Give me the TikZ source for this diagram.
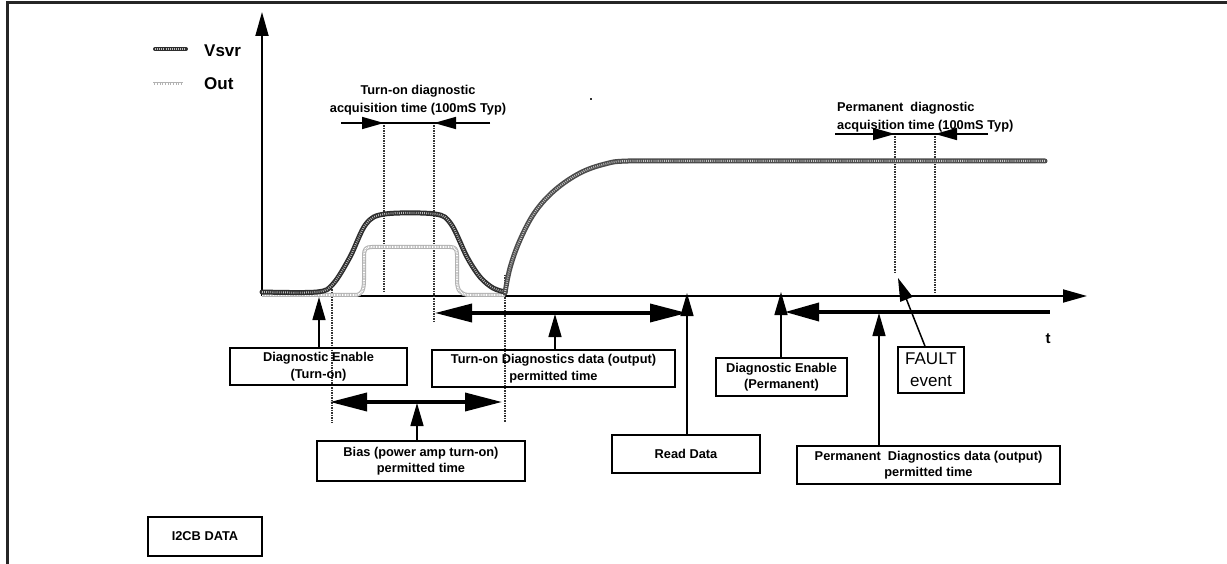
\documentclass[tikz,border=0pt]{standalone}
\usepackage{fontspec}
\setmainfont{Liberation Sans}
\usetikzlibrary{arrows.meta}
\begin{document}
\begin{tikzpicture}[x=1pt,y=-1pt,
  bx/.style={draw, line width=1.6pt, align=center, inner sep=0pt, font=\bfseries\fontsize{12.8}{16.5}\selectfont},
  axis/.style={line width=1.8pt, -{Triangle[length=24pt,width=13pt]}},
  arr/.style={line width=1.5pt, -{Triangle[length=23pt,width=13pt]}},
  rng/.style={line width=3.6pt, {Triangle[length=37pt,width=18pt]}-{Triangle[length=37pt,width=18pt]}},
  rngL/.style={line width=3.6pt, {Triangle[length=34pt,width=18pt]}-},
  acq/.style={line width=1.6pt, -{Triangle[length=22pt,width=12pt]}},
  vl/.style={line width=1.1pt, black!80, dash pattern=on 1.5pt off 1pt},
  vsvrA/.style={solid, line width=5pt, black!82, line cap=round, line join=round},
  vsvrB/.style={line width=2pt, gray!50, dash pattern=on 0.8pt off 1.3pt},
  outA/.style={solid, line width=4pt, gray!60, line join=round},
  outB/.style={line width=2pt, white, dash pattern=on 0.8pt off 0.8pt},
  lbl/.style={font=\bfseries\fontsize{12.8}{17.5}\selectfont, inner sep=0pt}
]
\useasboundingbox (0,0) rectangle (1227,564);
\fill[white] (0,0) rectangle (1227,564);
% frame
\draw[line width=3pt, black!85] (7,564) -- (7,3) -- (1227,3);

% axes
\coordinate (O) at (262,296);
\coordinate (Ytip) at (262,12);
\coordinate (Xtip) at (1087,296);
\draw[axis] (O) -- (Ytip);
\draw[axis] (O) -- (Xtip);

% dashed verticals
\draw[vl] (384,123) -- (384,293);
\draw[vl] (434,123) -- (434,322);
\draw[vl] (332,287) -- (332,423);
\draw[vl] (505,275) -- (505,422);
\draw[vl] (895,134) -- (895,273);
\draw[vl] (935,134) -- (935,292);

% Out waveform
\path[preaction={draw,outA}, draw, outB]
  (262,295) -- (355,295) .. controls (362,295) and (364,290) .. (364,280)
  -- (364,255) .. controls (364,249) and (366,247) .. (372,247)
  -- (450,247) .. controls (455,247) and (457,249) .. (457,255)
  -- (457,280) .. controls (457,290) and (460,294) .. (468,295) -- (505,295);

% Vsvr waveform
\path[preaction={draw,vsvrA}, draw, vsvrB]
  plot[smooth, tension=0.55] coordinates {(262,292) (317,292) (333,284) (350,257) (366,224) (385,214) (435,214) (451,224) (467,257) (480,277) (493,288) (505,292)};
\path[preaction={draw,vsvrA,black!70}, draw, vsvrB, gray!40]
  plot[smooth, tension=0.6] coordinates {(505,293) (510,268) (520,240) (535,212) (555,190) (580,173) (605,164) (628,161) (700,161)} -- (1045,161);

% legend
\draw[vsvrB, preaction={draw,vsvrA,line width=4pt}] (155,49) -- (186,49);
\draw[outB, line width=1.5pt, preaction={draw,outA,line width=3pt}] (153,84) -- (183,84);
\node[anchor=west, font=\bfseries\fontsize{17}{20}\selectfont, inner sep=0pt] (lv) at (204,51) {Vsvr};
\node[anchor=west, font=\bfseries\fontsize{17}{20}\selectfont, inner sep=0pt] (lo) at (204,84) {Out};

% turn-on acquisition
\node[lbl, align=center] (tacq) at (418,100) {Turn-on diagnostic\\acquisition time (100mS Typ)};
\coordinate (ta1) at (341,123);
\coordinate (ta2) at (490,123);
\coordinate (ta1t) at (384,123);
\coordinate (ta2t) at (434,123);
\draw[line width=1.6pt] (ta1) -- (ta2);
\draw[acq] (ta1) -- (ta1t);
\draw[acq] (ta2) -- (ta2t);

% permanent acquisition
\node[lbl, align=left, anchor=west] (pacq) at (837,117) {Permanent\ \ diagnostic\\acquisition time (100mS Typ)};
\coordinate (pa1) at (835,134);
\coordinate (pa2) at (988,134);
\coordinate (pa1t) at (895,134);
\coordinate (pa2t) at (935,134);
\draw[line width=1.6pt] (pa1) -- (pa2);
\draw[acq] (pa1) -- (pa1t);
\draw[acq] (pa2) -- (pa2t);

% stray dot
\fill[black!80] (590,98) rectangle (592,100);

% t label
\node[font=\bfseries\fontsize{15}{18}\selectfont, inner sep=0pt] (tl) at (1048,339) {t};

% boxes
\node[bx, minimum width=177pt, minimum height=37pt] (den) at (318.5,366.5) {Diagnostic Enable\\(Turn-on)};
\node[bx, minimum width=243pt, minimum height=37pt] (tdd) at (553.5,368.5) {Turn-on Diagnostics data (output)\\permitted time};
\node[bx, minimum width=208pt, minimum height=40pt] (bias) at (421,461) {Bias (power amp turn-on)\\permitted time};
\node[bx, minimum width=148pt, minimum height=38pt] (read) at (686,454) {Read Data};
\node[bx, minimum width=131pt, minimum height=38pt] (dep) at (781.5,377) {Diagnostic Enable\\(Permanent)};
\node[draw, line width=1.6pt, align=center, inner sep=0pt, minimum width=66pt, minimum height=46pt, font=\fontsize{17}{22}\selectfont] (fault) at (931,370) {FAULT\\event};
\node[bx, minimum width=263pt, minimum height=38pt] (pdd) at (928.5,465) {Permanent\ \ Diagnostics data (output)\\permitted time};
\node[bx, minimum width=114pt, minimum height=39pt] (i2cb) at (205,536.5) {I2CB DATA};

% range arrows
\coordinate (r1a) at (435,313);
\coordinate (r1b) at (687,313);
\draw[rng] (r1a) -- (r1b);
\coordinate (r2a) at (330,402);
\coordinate (r2b) at (502,402);
\draw[rng] (r2a) -- (r2b);
\coordinate (r3a) at (785,312);
\coordinate (r3b) at (1050,312);
\draw[rngL] (r3a) -- (r3b);

% pointer arrows
\coordinate (tDEN) at (319,297);
\draw[arr] (den.north -| tDEN) -- (tDEN);
\coordinate (tTDD) at (555,314);
\draw[arr] (tdd.north -| tTDD) -- (tTDD);
\coordinate (tBIAS) at (417,403);
\draw[arr] (bias.north -| tBIAS) -- (tBIAS);
\coordinate (tREAD) at (687,293);
\draw[arr] (read.north -| tREAD) -- (tREAD);
\coordinate (tDEP) at (781,292);
\draw[arr] (dep.north -| tDEP) -- (tDEP);
\coordinate (tPDD) at (879,313);
\draw[arr] (pdd.north -| tPDD) -- (tPDD);
\coordinate (tFAULT) at (898,278);
\draw[arr] ([xshift=-6pt]fault.north) -- (tFAULT);
\end{tikzpicture}
\end{document}
